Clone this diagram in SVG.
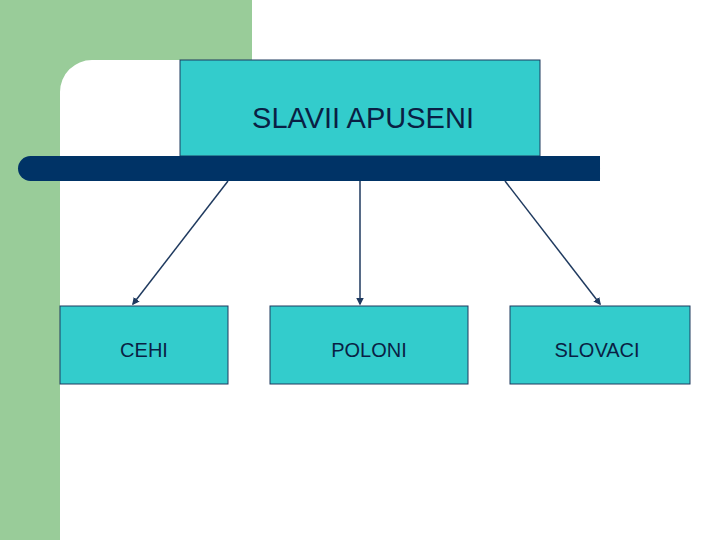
<svg xmlns="http://www.w3.org/2000/svg" width="720" height="540" viewBox="0 0 720 540">
<defs>
<style>
.box{fill:#33CCCC;stroke:#1F3A5F;stroke-width:1}
.t{font-family:"Liberation Sans",Arial,sans-serif;fill:#0A1F44;text-anchor:middle}
.c{stroke:#1F3A5F;stroke-width:1.5;fill:none;marker-end:url(#ah)}
</style>
<marker id="ah" viewBox="0 0 10 10" refX="8" refY="5" markerWidth="5" markerHeight="5" orient="auto"><path d="M0,0L10,5L0,10z" fill="#1F3A5F"/></marker>
</defs>
<rect width="720" height="540" fill="#fff"/>
<path d="M0,0H252V60H92A32,32 0 0 0 60,92V540H0Z" fill="#99CC99"/>
<g id="top"><rect class="box" x="180" y="60" width="360" height="96"/><text class="t" x="363" y="128" font-size="29">SLAVII APUSENI</text></g>
<rect x="18" y="156" width="582" height="25" rx="12.5" fill="#003366"/>
<rect x="300" y="156" width="300" height="25" fill="#003366"/>
<g id="connectors">
<line class="c" x1="228" y1="181" x2="133" y2="304"/>
<line class="c" x1="360" y1="181" x2="360" y2="304"/>
<line class="c" x1="505" y1="181" x2="600" y2="304"/>
</g>
<g id="cehi"><rect class="box" x="60" y="306" width="168" height="78"/><text class="t" x="144" y="357" font-size="20">CEHI</text></g>
<g id="poloni"><rect class="box" x="270" y="306" width="198" height="78"/><text class="t" x="369" y="357" font-size="20">POLONI</text></g>
<g id="slovaci"><rect class="box" x="510" y="306" width="180" height="78"/><text class="t" x="597" y="357" font-size="20">SLOVACI</text></g>
</svg>
